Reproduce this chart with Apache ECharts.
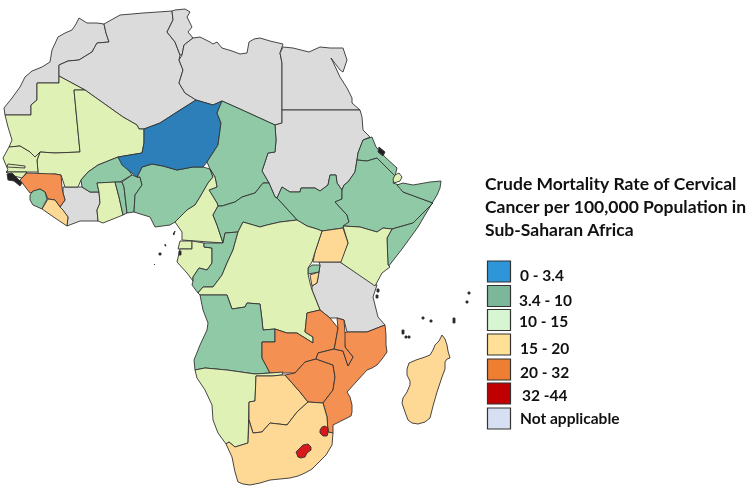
<!DOCTYPE html>
<html>
<head>
<meta charset="utf-8">
<style>
    html, body { margin: 0; padding: 0; background: #fff; }
    #chart { width: 750px; height: 494px; }
</style>
<script src="https://cdn.jsdelivr.net/npm/echarts@6/dist/echarts.min.js"></script>
</head>
<body>
<div id="chart"></div>
<script>
// rate class of each country, index into bandLabels (7 = offshore islets, 6 = no data)
const bandLabels = ['0 - 3.4', '3.4 - 10', '10 - 15', '15 - 20', '20 - 32', '32 -44', 'Not applicable']
const countryNames = [
    'Morocco', 'Algeria', 'Tunisia', 'Libya', 'Egypt', 'Sudan', 'Cote d Ivoire', 'Tanzania',
    'Mauritania', 'Mali', 'Senegal', 'Gambia', 'Guinea-Bissau', 'Burkina Faso', 'Ghana', 'Togo', 'Benin', 'Nigeria',
    'Niger', 'Chad', 'South Sudan', 'Eritrea', 'Ethiopia', 'Somalia', 'Djibouti', 'Kenya', 'Uganda', 'Rwanda', 'Burundi',
    'Guinea', 'Sierra Leone', 'Liberia', 'Cameroon', 'CAR', 'Eq Guinea', 'Gabon', 'Congo', 'DRC', 'Angola',
    'Zambia', 'Namibia', 'Botswana', 'Zimbabwe', 'Mozambique', 'Malawi', 'Madagascar', 'South Africa', 'Lesotho', 'Swaziland', 'Islets'
]
const countryBands = [
    6, 6, 6, 6, 6, 6, 6, 6,
    2, 2, 2, 2, 2, 1, 2, 1, 1, 1,
    0, 1, 1, 1, 1, 1, 2, 2, 3, 1, 3,
    4, 1, 3, 2, 1, 2, 2, 1, 2, 1,
    4, 2, 3, 4, 4, 4, 3, 3, 5, 5, 7
]
const mapColors = ['#2c7fb8', '#8fc9a6', '#e0f1b6', '#fdd995', '#f59053', '#d7191c', '#dbdbdb', '#222222']
const legendColors = ['#2e96d8', '#7db79b', '#d7f5d0', '#ffe096', '#ee7e32', '#c00000', '#d6e0f2']
const titleLines = ['Crude Mortality Rate of Cervical', 'Cancer per 100,000 Population in', 'Sub-Saharan Africa']

// outlines, x / y as in the 750x494 frame
const outlines = {
    'Morocco': [[[79,18],[87,23],[97,23],[104,24],[106,33],[109,42],[97,43],[92,52],[79,60],[68,61],[59,65],[59,76],[59,83],[37,83],[37,100],[31,105],[31,115],[5,115],[4,108],[12,98],[20,87],[25,77],[32,71],[42,67],[50,62],[52,50],[58,37],[65,33],[72,30],[76,24]]],
    'Algeria': [[[104,24],[120,15],[132,14],[143,13],[158,12],[172,11],[173,20],[167,32],[175,42],[180,55],[179,60],[183,70],[179,83],[185,93],[196,100],[177,112],[160,123],[144,129],[139,129],[137,125],[123,117],[85,90],[59,76],[59,65],[68,61],[79,60],[92,52],[97,43],[109,42],[106,33]]],
    'Tunisia': [[[172,11],[175,10],[185,9],[190,12],[187,17],[192,27],[188,32],[193,38],[184,45],[182,55],[180,55],[175,42],[167,32],[173,20]]],
    'Libya': [[[193,38],[200,37],[210,42],[213,44],[217,42],[222,48],[232,51],[240,54],[247,53],[249,42],[254,39],[260,38],[270,41],[283,44],[280,53],[282,63],[282,110],[282,123],[275,125],[240,109],[222,101],[213,105],[196,100],[185,93],[179,83],[183,70],[179,60],[182,55],[184,45]]],
    'Egypt': [[[283,47],[293,48],[309,52],[320,47],[330,48],[343,48],[347,60],[343,72],[340,70],[331,58],[333,62],[340,77],[347,88],[352,98],[352,103],[360,110],[282,110],[282,63],[280,53]]],
    'Sudan': [[[282,110],[360,110],[362,117],[363,130],[370,137],[363,140],[358,153],[357,160],[355,172],[348,182],[344,185],[342,190],[337,183],[336,175],[330,175],[328,185],[320,191],[315,188],[308,188],[301,188],[300,192],[290,192],[282,187],[277,198],[275,197],[269,183],[262,171],[268,153],[275,152],[276,140],[275,125],[282,123]]],
    'Cote d Ivoire': [[[63,187],[65,187],[78,187],[82,187],[90,192],[99,192],[100,203],[97,210],[98,221],[80,221],[67,226],[68,217],[60,207],[65,200],[63,193]]],
    'Tanzania': [[[319,262],[340,262],[377,285],[373,297],[378,317],[385,325],[367,332],[347,332],[344,320],[337,318],[330,318],[320,310],[312,290],[312,286],[317,283],[319,272],[320,265]]],
    'Mauritania': [[[5,115],[31,115],[31,105],[37,100],[37,83],[59,83],[59,76],[85,90],[74,90],[80,152],[55,153],[40,152],[35,157],[30,152],[20,146],[9,147],[12,140],[8,127]]],
    'Mali': [[[85,90],[123,117],[137,125],[139,129],[144,129],[144,143],[142,153],[118,157],[98,165],[88,172],[81,180],[78,187],[65,187],[61,175],[55,174],[42,175],[38,173],[37,160],[40,152],[55,153],[80,152],[74,90]]],
    'Senegal': [[[9,147],[20,146],[30,152],[35,157],[40,152],[37,160],[38,172],[6,172],[8,170],[3,158]]],
    'Gambia': [[[8,164],[25,166],[25,168],[7,167]]],
    'Guinea-Bissau': [[[6,172],[27,172],[22,178],[14,176]]],
    'Burkina Faso': [[[118,157],[130,172],[132,175],[120,182],[97,183],[99,192],[90,192],[82,187],[81,180],[88,172],[98,165]]],
    'Ghana': [[[97,183],[115,182],[119,197],[123,215],[103,223],[98,221],[97,210],[100,203],[99,192]]],
    'Togo': [[[115,182],[122,182],[124,187],[127,213],[123,215],[119,197]]],
    'Benin': [[[122,182],[132,175],[137,177],[140,177],[142,185],[135,195],[134,212],[127,213],[124,187]]],
    'Nigeria': [[[137,177],[142,167],[152,164],[163,166],[177,170],[193,167],[203,167],[210,169],[213,177],[208,183],[200,197],[195,205],[187,210],[175,222],[170,225],[155,227],[150,217],[134,212],[135,195],[142,185],[140,177]]],
    'Niger': [[[196,100],[213,105],[222,101],[217,113],[221,123],[218,145],[207,162],[203,167],[193,167],[177,170],[163,166],[152,164],[142,167],[137,177],[128,170],[122,165],[118,157],[142,153],[144,143],[144,129],[160,123],[177,112]]],
    'Chad': [[[222,101],[240,109],[275,125],[276,140],[275,152],[268,153],[262,171],[269,183],[263,183],[255,193],[242,197],[235,202],[222,206],[218,206],[217,203],[209,190],[217,187],[215,177],[210,169],[207,162],[218,145],[221,123],[217,113]]],
    'South Sudan': [[[277,198],[282,187],[290,192],[300,192],[301,188],[308,188],[315,188],[320,191],[328,185],[330,175],[336,175],[337,183],[342,190],[342,199],[335,202],[347,215],[349,222],[343,228],[322,231],[317,229],[307,226],[297,220],[288,210]]],
    'Eritrea': [[[363,140],[372,137],[376,147],[385,157],[397,168],[395,176],[387,168],[377,158],[367,161],[357,160],[358,153]]],
    'Ethiopia': [[[357,160],[367,161],[377,158],[387,168],[395,176],[393,183],[399,185],[403,192],[433,203],[413,223],[392,229],[383,228],[377,232],[360,227],[343,226],[349,222],[347,215],[335,202],[342,199],[342,190],[344,185],[348,182],[355,172]]],
    'Somalia': [[[397,185],[403,183],[413,185],[430,182],[441,181],[440,188],[437,195],[431,205],[425,215],[418,227],[410,238],[402,249],[395,258],[388,267],[387,238],[392,229],[413,223],[433,203],[403,192]]],
    'Djibouti': [[[399,173],[402,177],[400,181],[394,183],[393,179],[395,175]]],
    'Kenya': [[[343,226],[360,227],[377,232],[383,228],[392,229],[387,238],[388,265],[390,267],[382,273],[375,286],[340,262],[348,243]]],
    'Uganda': [[[322,231],[343,228],[348,243],[341,262],[313,262],[315,252],[319,240]]],
    'Rwanda': [[[308,268],[312,265],[320,265],[319,272],[308,274]]],
    'Burundi': [[[310,275],[319,272],[317,283],[312,286]]],
    'Guinea': [[[27,173],[55,174],[61,175],[62,187],[63,193],[65,200],[60,207],[55,200],[48,199],[45,192],[40,189],[33,192],[30,193],[20,180]]],
    'Sierra Leone': [[[30,195],[33,191],[40,189],[45,192],[47,199],[42,209],[33,205],[30,200]]],
    'Liberia': [[[48,199],[55,200],[60,207],[63,210],[68,217],[67,226],[55,218],[42,209]]],
    'Cameroon': [[[210,169],[215,177],[217,187],[209,190],[217,203],[218,206],[213,215],[217,225],[222,240],[223,243],[182,240],[182,232],[175,222],[187,210],[195,205],[200,197],[208,183],[213,177]]],
    'CAR': [[[222,206],[235,202],[242,197],[255,193],[263,183],[269,183],[275,197],[277,198],[288,210],[297,220],[280,222],[267,225],[260,227],[243,222],[238,232],[225,233],[223,243],[222,240],[217,225],[213,215],[218,206]]],
    'Eq Guinea': [[[180,241],[192,241],[192,249],[178,249]]],
    'Gabon': [[[180,249],[192,249],[192,241],[204,243],[204,247],[212,248],[212,263],[207,270],[199,268],[193,277],[193,281],[187,273],[177,262]]],
    'Congo': [[[204,243],[223,243],[225,233],[238,232],[233,250],[227,263],[222,275],[213,287],[203,287],[198,293],[192,285],[193,281],[193,277],[199,268],[207,270],[212,263],[212,248],[204,247]]],
    'DRC': [[[238,232],[243,222],[260,227],[267,225],[280,222],[297,220],[307,226],[317,229],[322,231],[319,240],[315,252],[312,262],[308,268],[308,274],[310,283],[312,290],[320,310],[307,313],[305,332],[313,337],[313,343],[305,338],[297,333],[287,333],[275,329],[263,330],[262,320],[260,304],[247,303],[245,307],[232,309],[227,295],[200,295],[198,293],[203,287],[213,287],[222,275],[227,263],[233,250]]],
    'Angola': [[[200,295],[227,295],[232,309],[245,307],[247,303],[260,304],[262,320],[263,330],[275,329],[275,342],[262,342],[262,358],[270,373],[255,374],[227,370],[205,368],[195,370],[194,360],[200,345],[207,330],[208,323],[203,310]]],
    'Zambia': [[[275,329],[287,333],[297,333],[305,338],[313,343],[313,337],[305,332],[307,313],[320,310],[330,318],[338,328],[335,345],[334,349],[318,353],[316,359],[305,362],[295,373],[283,373],[270,373],[262,358],[262,342],[275,342]]],
    'Namibia': [[[195,370],[205,368],[227,370],[255,374],[270,373],[283,372],[282,375],[272,376],[256,376],[255,401],[249,402],[248,443],[235,447],[229,442],[226,444],[218,433],[213,420],[212,405],[205,390],[197,378]]],
    'Botswana': [[[256,376],[272,376],[282,375],[285,375],[300,392],[308,402],[297,412],[287,425],[270,423],[262,432],[253,433],[249,420],[249,402],[255,401]]],
    'Zimbabwe': [[[285,375],[295,373],[305,362],[316,359],[333,365],[335,377],[333,390],[323,403],[308,402],[300,392]]],
    'Mozambique': [[[385,325],[386,335],[386,345],[387,352],[382,359],[377,365],[372,368],[367,370],[357,381],[347,392],[350,397],[352,405],[352,412],[351,416],[343,420],[333,425],[333,433],[328,432],[327,417],[323,403],[333,390],[335,377],[333,365],[316,359],[318,353],[334,349],[343,351],[348,366],[353,357],[345,347],[344,333],[347,332],[367,332]]],
    'Malawi': [[[337,318],[344,320],[345,333],[345,347],[353,357],[348,366],[343,351],[334,349],[335,345],[338,328]]],
    'Madagascar': [[[442,335],[445,339],[447,345],[448,351],[450,358],[447,359],[445,362],[445,369],[442,377],[437,392],[433,406],[430,418],[425,422],[418,424],[412,423],[408,420],[405,412],[402,403],[403,398],[407,392],[410,385],[410,381],[407,375],[407,369],[409,363],[416,360],[425,357],[430,355],[433,350],[435,345],[439,341]]],
    'South Africa': [[[226,444],[229,442],[235,447],[248,443],[249,420],[253,433],[262,432],[270,423],[287,425],[297,412],[308,402],[323,403],[327,417],[328,432],[333,433],[332,445],[326,455],[318,463],[312,469],[305,473],[298,476],[290,478],[280,479],[270,480],[260,483],[250,485],[243,484],[238,482],[235,472],[232,457]]],
    'Lesotho': [[[296,452],[299,449],[303,445],[308,444],[311,447],[311,450],[307,453],[305,457],[301,458],[298,457]]],
    'Swaziland': [[[320,430],[322,427],[325,426],[328,428],[328,433],[327,436],[323,436],[320,433]]]
}
const islets = [
    [[7,174],[12,173],[22,183],[20,186],[14,181],[8,180]], [[379,147],[385,152],[383,156],[378,152]], [[173,234],[175,231],[176,232],[174,235]],
    [[165,244],[166,244],[166,246],[165,246]], [[159,253],[161,253],[161,255],[159,255]], [[154,264],[155,264],[155,265],[154,265]],
    [[402,330],[404,330],[404,334],[402,334]], [[405,336],[407,336],[407,338],[405,338]], [[408,336],[410,336],[410,338],[408,338]],
    [[422,317],[424,317],[424,319],[422,319]], [[430,320],[432,320],[432,322],[430,322]], [[453,318],[455,318],[455,323],[453,323]],
    [[466,301],[468,301],[468,303],[466,303]], [[468,292],[470,292],[470,294],[468,294]], [[377,289],[379,289],[379,292],[377,292]],
    [[376,295],[378,295],[378,298],[376,298]], [[179,251],[181,251],[181,255],[179,255]]
]

const flipRing = ring => ring.map(p => [p[0], -p[1]])
const features = countryNames.filter(n => n !== 'Islets').map(name => ({
    type: 'Feature',
    properties: { name: name },
    geometry: { type: 'Polygon', coordinates: outlines[name].map(flipRing) }
}))
features.push({
    type: 'Feature',
    properties: { name: 'Islets' },
    geometry: { type: 'MultiPolygon', coordinates: islets.map(r => [flipRing(r)]) }
})
echarts.registerMap('africa', { type: 'FeatureCollection', features: features })

// legend block on the right
const legendTops = [261, 285.5, 309.5, 334, 359, 383, 408]
const legendTextY = [276, 301, 322, 349, 373, 396, 419]
const legendTextX = [520, 519, 519, 520, 520, 522, 520]
const legendItems = []
bandLabels.forEach((label, i) => {
    legendItems.push({
        type: 'rect',
        shape: { x: 487.5, y: legendTops[i], width: 23, height: 21 },
        style: { fill: legendColors[i], stroke: '#333', lineWidth: 1.2 },
        silent: true
    })
    legendItems.push({
        type: 'text',
        style: {
            x: legendTextX[i], y: legendTextY[i], text: label, fill: '#111',
            font: 'bold 15.5px Lato', textVerticalAlign: 'middle'
        },
        silent: true
    })
})

const chart = echarts.init(document.getElementById('chart'), null, { renderer: 'canvas' })
chart.setOption({
    animation: false,
    backgroundColor: '#fff',
    title: {
        text: titleLines.join('\n'),
        left: 485,
        top: 173,
        padding: 0,
        textStyle: { fontFamily: 'Lato', fontWeight: 'bold', fontSize: 17.5, lineHeight: 23, color: '#111' }
    },
    visualMap: {
        show: false,
        type: 'piecewise',
        dimension: 0,
        pieces: mapColors.map((c, i) => ({ value: i, color: c }))
    },
    graphic: legendItems,
    series: [{
        type: 'map',
        map: 'africa',
        silent: true,
        aspectScale: 1,
        boundingCoords: [[0, 0], [750, -494]],
        layoutCenter: ['50%', '50%'],
        layoutSize: 750,
        itemStyle: { borderColor: '#333', borderWidth: 0.9 },
        label: { show: false },
        emphasis: { disabled: true },
        select: { disabled: true },
        data: countryNames.map((n, i) => ({ name: n, value: countryBands[i] }))
    }]
})
</script>
</body>
</html>
